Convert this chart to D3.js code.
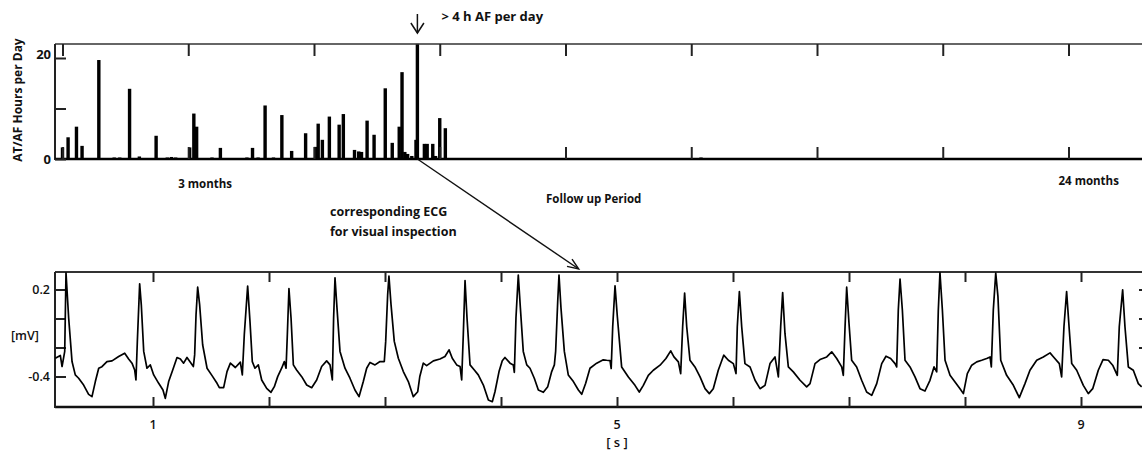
<!DOCTYPE html>
<html>
<head>
<meta charset="utf-8">
<script src="https://cdn.jsdelivr.net/npm/d3@7"></script>
<style>
  html, body { margin: 0; padding: 0; background: #fff; }
  svg { display: block; }
  text { font-family: "Open Sans", "DejaVu Sans", sans-serif; fill: #111; }
  .axis path { display: none; }
  .axis line { stroke: #222; stroke-width: 2; }
</style>
</head>
<body>
<svg id="chart" width="1142" height="453"></svg>
<script>
// ---- Daily AT/AF burden from the device memory (day since implant, hours) ----
const burdenDays  = [0, 4, 10, 14, 26, 37, 41, 48, 55, 67, 75, 78, 81, 91, 94, 96, 107, 113, 132, 136,
                     140, 145, 151, 157, 164, 174, 181, 183, 186, 191, 198, 201, 209, 212, 214, 218, 223,
                     231, 236, 241, 243, 245, 247, 250, 253, 254, 259, 261, 265, 267, 270, 274, 457];
const burdenHours = [2.3, 4.3, 6.4, 2.6, 19.6, 0.3, 0.3, 13.9, 0.5, 4.6, 0.3, 0.4, 0.3, 2.3, 9.0, 6.4, 0.3, 2.2, 0.3, 2.2,
                     0.3, 10.6, 0.3, 8.7, 1.6, 5.1, 2.4, 7.0, 3.8, 8.4, 6.8, 8.9, 1.8, 1.5, 1.4, 7.6, 4.8,
                     14.0, 3.2, 6.4, 17.2, 1.4, 1.0, 0.6, 3.8, 22.8, 3.0, 3.0, 3.0, 0.6, 8.1, 6.1, 0.3];
const dayTicks    = [0, 90, 180, 270, 360, 450, 540, 630, 720];
const hourTicks   = [0, 10, 20];
const hourLabels  = [0, 20];
const periodMarks = [{ day: 90, text: "3 months" }, { day: 720, text: "24 months" }];
const flaggedDay  = 254;          // first day with > 4 h AF

// ---- Stored ECG strip for that day: [time s, amplitude mV] ----
const ecgTrace = [
  [0.158,-0.274],[0.201,-0.255],[0.216,-0.331],[0.239,-0.227],[0.250,0.315],[0.273,0.003],[0.302,-0.297],
  [0.330,-0.389],[0.359,-0.412],[0.402,-0.459],[0.445,-0.523],[0.474,-0.539],[0.503,-0.435],[0.532,-0.343],
  [0.560,-0.332],[0.603,-0.297],[0.647,-0.292],[0.704,-0.262],[0.756,-0.239],[0.790,-0.279],[0.819,-0.308],
  [0.842,-0.355],[0.853,-0.424],[0.865,-0.158],[0.885,0.239],[0.899,0.096],[0.920,-0.227],[0.948,-0.343],
  [0.977,-0.320],[1.006,-0.389],[1.049,-0.447],[1.086,-0.493],[1.106,-0.551],[1.135,-0.435],[1.170,-0.355],
  [1.207,-0.269],[1.236,-0.279],[1.264,-0.308],[1.293,-0.269],[1.322,-0.301],[1.348,-0.331],[1.359,-0.251],
  [1.371,0.026],[1.385,0.216],[1.402,0.096],[1.428,-0.181],[1.466,-0.343],[1.509,-0.394],[1.552,-0.447],
  [1.572,-0.477],[1.609,-0.477],[1.638,-0.366],[1.667,-0.308],[1.710,-0.338],[1.753,-0.301],[1.770,-0.389],
  [1.787,-0.112],[1.816,0.223],[1.836,-0.020],[1.856,-0.297],[1.879,-0.343],[1.908,-0.320],[1.937,-0.424],
  [1.980,-0.482],[2.017,-0.509],[2.046,-0.470],[2.075,-0.401],[2.109,-0.343],[2.132,-0.297],[2.147,-0.343],
  [2.158,-0.112],[2.172,0.207],[2.190,0.003],[2.210,-0.320],[2.238,-0.355],[2.282,-0.401],[2.325,-0.459],
  [2.368,-0.477],[2.411,-0.424],[2.454,-0.331],[2.497,-0.292],[2.526,-0.320],[2.546,-0.424],[2.557,0.003],
  [2.569,0.281],[2.586,0.073],[2.612,-0.227],[2.655,-0.343],[2.698,-0.412],[2.741,-0.493],[2.776,-0.539],
  [2.813,-0.435],[2.842,-0.343],[2.871,-0.303],[2.914,-0.320],[2.957,-0.297],[2.994,-0.297],[3.006,-0.158],
  [3.023,0.165],[3.034,0.292],[3.052,0.096],[3.080,-0.158],[3.115,-0.274],[3.158,-0.366],[3.201,-0.435],
  [3.244,-0.539],[3.282,-0.505],[3.300,-0.400],[3.330,-0.308],[3.359,-0.325],[3.417,-0.292],[3.474,-0.279],
  [3.517,-0.262],[3.552,-0.216],[3.580,-0.274],[3.618,-0.320],[3.647,-0.331],[3.661,-0.424],[3.675,-0.112],
  [3.690,0.262],[3.707,0.003],[3.733,-0.320],[3.770,-0.355],[3.804,-0.389],[3.848,-0.459],[3.891,-0.562],
  [3.925,-0.574],[3.948,-0.505],[3.983,-0.366],[4.011,-0.292],[4.034,-0.269],[4.078,-0.308],[4.106,-0.320],
  [4.115,-0.371],[4.129,0.003],[4.149,0.299],[4.167,0.073],[4.192,-0.227],[4.222,-0.320],[4.250,-0.343],
  [4.287,-0.412],[4.322,-0.493],[4.365,-0.509],[4.403,-0.470],[4.437,-0.366],[4.460,-0.320],[4.471,-0.227],
  [4.489,0.119],[4.500,0.299],[4.517,0.073],[4.546,-0.227],[4.580,-0.389],[4.624,-0.435],[4.667,-0.493],
  [4.696,-0.523],[4.730,-0.447],[4.767,-0.343],[4.825,-0.308],[4.882,-0.285],[4.911,-0.288],[4.940,-0.290],
  [4.950,-0.345],[4.963,-0.057],[4.983,0.225],[5.003,0.012],[5.040,-0.334],[5.098,-0.403],[5.155,-0.461],
  [5.192,-0.507],[5.227,-0.461],[5.270,-0.392],[5.313,-0.357],[5.371,-0.322],[5.422,-0.276],[5.463,-0.223],
  [5.491,-0.265],[5.529,-0.299],[5.549,-0.380],[5.566,-0.057],[5.583,0.175],[5.601,-0.057],[5.629,-0.288],
  [5.672,-0.334],[5.716,-0.403],[5.759,-0.484],[5.796,-0.518],[5.830,-0.484],[5.873,-0.357],[5.920,-0.253],
  [5.960,-0.288],[6.003,-0.311],[6.026,-0.380],[6.037,-0.057],[6.055,0.186],[6.075,-0.057],[6.103,-0.311],
  [6.147,-0.334],[6.190,-0.426],[6.233,-0.484],[6.276,-0.461],[6.319,-0.311],[6.362,-0.265],[6.391,-0.403],
  [6.411,-0.057],[6.428,0.179],[6.448,-0.103],[6.477,-0.334],[6.520,-0.368],[6.578,-0.426],[6.635,-0.472],
  [6.664,-0.449],[6.707,-0.311],[6.750,-0.283],[6.808,-0.265],[6.851,-0.230],[6.894,-0.276],[6.937,-0.334],
  [6.951,-0.392],[6.966,-0.057],[6.980,0.216],[7.000,-0.033],[7.023,-0.288],[7.066,-0.334],[7.109,-0.426],
  [7.152,-0.507],[7.196,-0.530],[7.239,-0.449],[7.282,-0.311],[7.319,-0.260],[7.359,-0.276],[7.397,-0.311],
  [7.411,-0.334],[7.425,0.059],[7.440,0.272],[7.460,0.059],[7.483,-0.288],[7.526,-0.334],[7.569,-0.403],
  [7.612,-0.484],[7.655,-0.500],[7.698,-0.426],[7.733,-0.334],[7.756,-0.368],[7.770,0.059],[7.784,0.317],
  [7.805,0.059],[7.828,-0.288],[7.871,-0.392],[7.914,-0.438],[7.957,-0.484],[7.986,-0.518],[8.020,-0.380],
  [8.058,-0.322],[8.101,-0.299],[8.144,-0.288],[8.187,-0.276],[8.216,-0.265],[8.227,-0.334],[8.244,0.059],
  [8.265,0.313],[8.284,0.151],[8.308,-0.288],[8.359,-0.392],[8.417,-0.461],[8.468,-0.546],[8.517,-0.449],
  [8.560,-0.357],[8.618,-0.288],[8.675,-0.265],[8.733,-0.237],[8.767,-0.269],[8.813,-0.311],[8.833,-0.403],
  [8.853,-0.057],[8.876,0.186],[8.897,-0.057],[8.920,-0.311],[8.963,-0.357],[9.020,-0.461],[9.063,-0.518],
  [9.101,-0.484],[9.149,-0.357],[9.190,-0.283],[9.236,-0.288],[9.273,-0.322],[9.313,-0.392],[9.330,-0.057],
  [9.359,0.198],[9.379,-0.057],[9.408,-0.334],[9.451,-0.357],[9.494,-0.449],[9.523,-0.472]
];
const secondTicks  = [1, 2, 3, 4, 5, 6, 7, 8, 9];
const secondLabels = [1, 5, 9];
const mvTicks      = [0.2, 0, -0.2, -0.4];
const mvLabels     = [0.2, -0.4];
const ecgLinkSecond = 4.67;       // where the connector lands on the strip

const svg = d3.select("#chart");

// ================= Upper panel: AT/AF hours per day =================
const burdenBox = { left: 55, right: 1150, top: 44, base: 159 };
const xDay = d3.scaleLinear().domain([0, 720]).range([62.5, 1068.5]);
const yHours = d3.scaleLinear().domain([0, 20]).range([159, 58]);

const upper = svg.append("g");

// bars
upper.selectAll("rect.burden")
  .data(burdenDays.map((d, i) => ({ day: d, hours: burdenHours[i] })))
  .join("rect")
  .attr("class", "burden")
  .attr("x", d => xDay(d.day) - 1.7)
  .attr("width", 3.4)
  .attr("y", d => yHours(d.hours))
  .attr("height", d => yHours(0) - yHours(d.hours))
  .attr("fill", "#000");

// frame
upper.append("line").attr("x1", burdenBox.left).attr("x2", burdenBox.right)
  .attr("y1", burdenBox.top).attr("y2", burdenBox.top).attr("stroke", "#333").attr("stroke-width", 1.6);
upper.append("line").attr("x1", burdenBox.left).attr("x2", burdenBox.left)
  .attr("y1", burdenBox.top).attr("y2", burdenBox.base + 1).attr("stroke", "#222").attr("stroke-width", 2);
upper.append("line").attr("x1", burdenBox.left).attr("x2", burdenBox.right)
  .attr("y1", yHours(0)).attr("y2", yHours(0)).attr("stroke", "#000").attr("stroke-width", 2.4);

// time ticks pointing inward from top and bottom edges
upper.append("g").attr("class", "axis")
  .attr("transform", `translate(0,${burdenBox.top})`)
  .call(d3.axisBottom(xDay).tickValues(dayTicks).tickSize(12).tickFormat(""));
upper.append("g").attr("class", "axis")
  .attr("transform", `translate(0,${burdenBox.base})`)
  .call(d3.axisTop(xDay).tickValues(dayTicks).tickSize(12).tickFormat(""));

// hour ticks pointing inward, labels outside
upper.append("g").attr("class", "axis")
  .attr("transform", `translate(${burdenBox.left},0)`)
  .call(d3.axisRight(yHours).tickValues(hourTicks).tickSize(11).tickFormat(""));
upper.selectAll("text.hlab")
  .data(hourLabels)
  .join("text")
  .attr("class", "hlab")
  .attr("x", 51)
  .attr("y", d => yHours(d) - (d > 0 ? 4 : 0))
  .attr("dy", "0.35em")
  .attr("text-anchor", "end")
  .attr("font-size", 13).attr("font-weight", 700)
  .text(d => d);

upper.append("text")
  .attr("transform", "translate(22,100) rotate(-90)")
  .attr("text-anchor", "middle")
  .attr("font-size", 12).attr("font-weight", 700)
  .text("AT/AF Hours per Day");

upper.selectAll("text.period")
  .data(periodMarks)
  .join("text")
  .attr("class", "period")
  .attr("x", d => xDay(d.day) - 10)
  .attr("y", (d, i) => i === 0 ? 188 : 185)
  .attr("font-size", 11.5).attr("font-weight", 700)
  .text(d => d.text);

upper.append("text")
  .attr("x", 546).attr("y", 203)
  .attr("font-size", 11.5).attr("font-weight", 700)
  .text("Follow up Period");

// marker above the first day with more than 4 h AF
const fx = xDay(flaggedDay);
const arrow = svg.append("g").attr("fill", "none").attr("stroke", "#111").attr("stroke-width", 1.5);
arrow.append("line").attr("x1", fx).attr("x2", fx).attr("y1", 14).attr("y2", 33);
arrow.append("polyline").attr("points", `${fx - 6.5},23 ${fx},33 ${fx + 6.5},23`);
svg.append("text")
  .attr("x", fx + 24).attr("y", 21)
  .attr("font-size", 13).attr("font-weight", 700)
  .text("> 4 h AF per day");

svg.append("text").attr("x", 330).attr("y", 216)
  .attr("font-size", 12.5).attr("font-weight", 700).text("corresponding ECG");
svg.append("text").attr("x", 330).attr("y", 236)
  .attr("font-size", 12.5).attr("font-weight", 700).text("for visual inspection");

// ================= Lower panel: ECG strip =================
const ecgBox = { left: 55, right: 1150, top: 272, bottom: 407 };
const xSec = d3.scaleLinear().domain([1, 9]).range([153, 1081]);
const yMv = d3.scaleLinear().domain([-0.4, 0.2]).range([376.5, 289.5]);

const lower = svg.append("g");

lower.append("line").attr("x1", ecgBox.left).attr("x2", ecgBox.right)
  .attr("y1", ecgBox.top).attr("y2", ecgBox.top).attr("stroke", "#333").attr("stroke-width", 1.8);
lower.append("line").attr("x1", ecgBox.left).attr("x2", ecgBox.right)
  .attr("y1", ecgBox.bottom).attr("y2", ecgBox.bottom).attr("stroke", "#111").attr("stroke-width", 2.4);
lower.append("line").attr("x1", ecgBox.left).attr("x2", ecgBox.left)
  .attr("y1", ecgBox.top).attr("y2", ecgBox.bottom + 1).attr("stroke", "#222").attr("stroke-width", 2);

lower.append("g").attr("class", "axis")
  .attr("transform", `translate(0,${ecgBox.top})`)
  .call(d3.axisBottom(xSec).tickValues(secondTicks).tickSize(10).tickFormat(""));
lower.append("g").attr("class", "axis")
  .attr("transform", `translate(0,${ecgBox.bottom})`)
  .call(d3.axisTop(xSec).tickValues(secondTicks).tickSize(10).tickFormat(""));
lower.append("g").attr("class", "axis")
  .attr("transform", `translate(${ecgBox.left},0)`)
  .call(d3.axisRight(yMv).tickValues(mvTicks).tickSize(11).tickFormat(""));
lower.append("g").attr("class", "axis")
  .attr("transform", `translate(1142,0)`)
  .call(d3.axisLeft(yMv).tickValues([0.2, 0, -0.2]).tickSize(3).tickFormat(""));

lower.selectAll("text.slab")
  .data(secondLabels)
  .join("text")
  .attr("class", "slab")
  .attr("x", d => xSec(d)).attr("y", 429)
  .attr("text-anchor", "middle")
  .attr("font-size", 12.5).attr("font-weight", 600)
  .text(d => d);
lower.append("text")
  .attr("x", xSec(5)).attr("y", 447)
  .attr("text-anchor", "middle")
  .attr("font-size", 13).attr("font-weight", 600)
  .text("[ s ]");

lower.selectAll("text.mvlab")
  .data(mvLabels)
  .join("text")
  .attr("class", "mvlab")
  .attr("x", 50).attr("y", d => yMv(d))
  .attr("dy", "0.35em")
  .attr("text-anchor", "end")
  .attr("font-size", 12.5).attr("font-weight", 600)
  .text(d => d3.format(".1f")(d).replace("\u2212", "-"));
lower.append("text")
  .attr("x", 11).attr("y", 336).attr("dy", "0.35em")
  .attr("font-size", 12.5).attr("font-weight", 600)
  .text("[mV]");

lower.append("path")
  .datum(ecgTrace)
  .attr("fill", "none")
  .attr("stroke", "#000")
  .attr("stroke-width", 1.7)
  .attr("stroke-linejoin", "round")
  .attr("d", d3.line().x(d => xSec(d[0])).y(d => yMv(d[1])));

// connector from the flagged day to its ECG strip
const lx1 = xDay(flaggedDay), ly1 = yHours(0);
const lx2 = xSec(ecgLinkSecond), ly2 = ecgBox.top - 3;
const link = svg.append("g").attr("stroke", "#111").attr("stroke-width", 1.4).attr("fill", "none");
link.append("line").attr("x1", lx1).attr("y1", ly1).attr("x2", lx2).attr("y2", ly2);
const ang = Math.atan2(ly2 - ly1, lx2 - lx1);
const head = 12, spread = 0.38;
link.append("polyline").attr("points", [
  [lx2 - head * Math.cos(ang - spread), ly2 - head * Math.sin(ang - spread)],
  [lx2, ly2],
  [lx2 - head * Math.cos(ang + spread), ly2 - head * Math.sin(ang + spread)]
].map(p => p.join(",")).join(" "));
</script>
</body>
</html>
